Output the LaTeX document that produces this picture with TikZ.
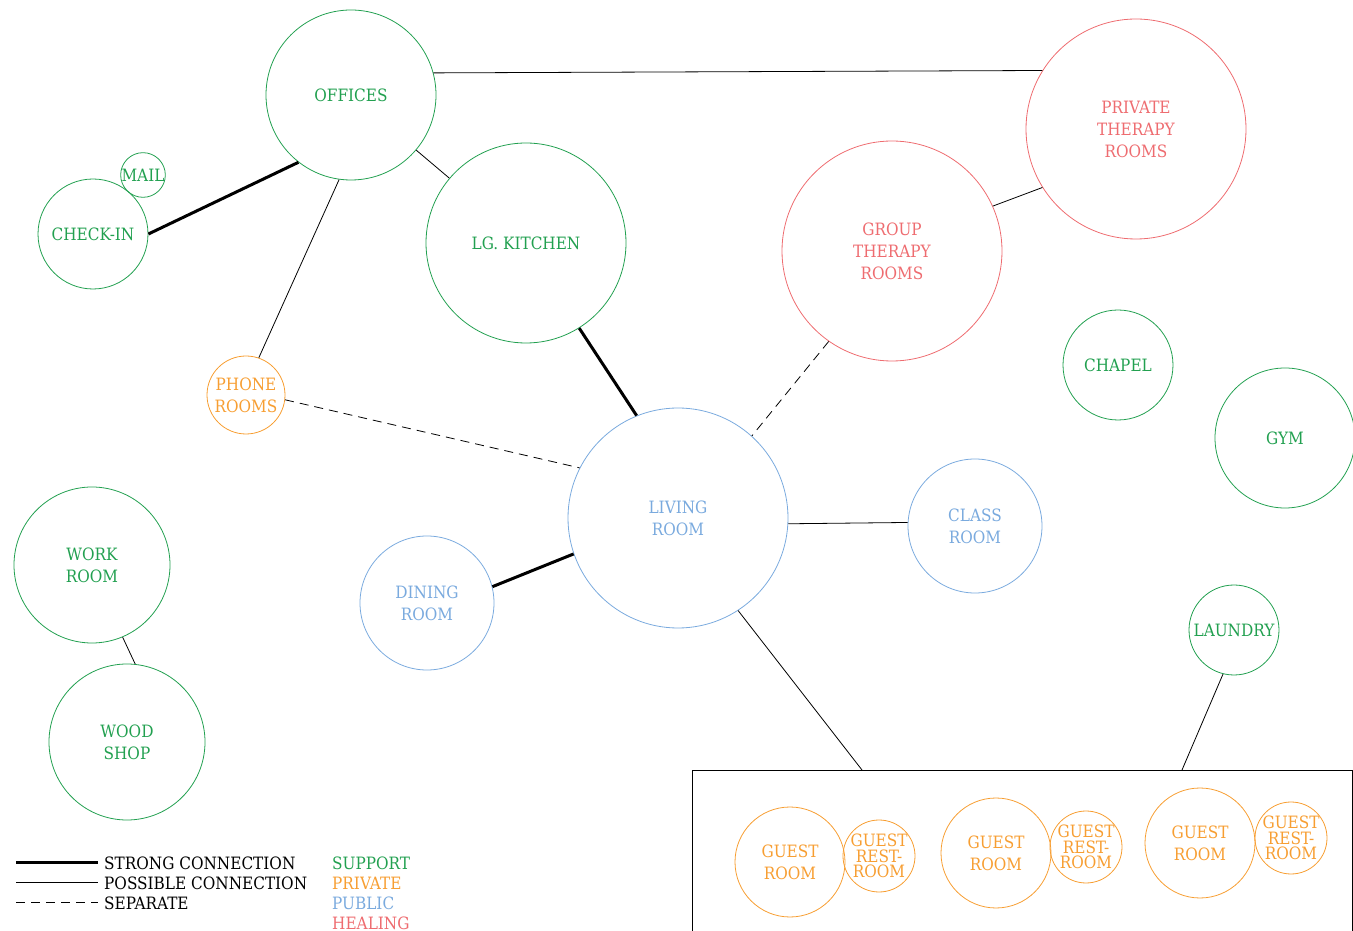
\documentclass[tikz,border=0pt]{standalone}
\usepackage{fontspec}
\setmainfont{DejaVu Serif Condensed}
\definecolor{supportgreen}{RGB}{34,160,80}
\definecolor{privateorange}{RGB}{247,158,50}
\definecolor{publicblue}{RGB}{122,170,222}
\definecolor{healingred}{RGB}{238,108,112}

\begin{document}
\begin{tikzpicture}[x=1pt, y=1pt,
    room/.style={circle, draw, inner sep=0pt, align=center, line width=0.8pt,
        font=\fontsize{17}{22}\selectfont},
    support/.style={room, draw=supportgreen, text=supportgreen},
    private/.style={room, draw=privateorange, text=privateorange},
    public/.style={room, draw=publicblue, text=publicblue},
    healing/.style={room, draw=healingred, text=healingred},
    restroom/.style={private, font=\fontsize{17}{15.5}\selectfont},
    strong/.style={line width=3pt},
    possible/.style={line width=0.8pt},
    separate/.style={line width=0.8pt, dash pattern=on 9pt off 6pt},
    legend/.style={anchor=west, inner sep=0pt, font=\fontsize{17}{20}\selectfont}]
    \useasboundingbox (0,0) rectangle (1353,930);

    % Support spaces
    \node[support, minimum size=170pt] (offices) at (351,835) {OFFICES};
    \node[support, minimum size=200pt] (kitchen) at (526,687) {LG. KITCHEN};
    \node[support, minimum size=110pt] (checkin) at (93,696) {CHECK-IN};
    \node[support, minimum size=40pt] (mail) at (143,755) {MAIL};
    \node[support, minimum size=110pt] (chapel) at (1118,565) {CHAPEL};
    \node[support, minimum size=140pt] (gym) at (1285,492) {GYM};
    \node[support, minimum size=90pt] (laundry) at (1234,300) {LAUNDRY};
    \node[support, minimum size=156pt] (workroom) at (92,365) {WORK\\ROOM};
    \node[support, minimum size=156pt] (woodshop) at (127,188) {WOOD\\SHOP};

    % Healing spaces
    \node[healing, minimum size=220pt] (privtherapy) at (1136,801) {PRIVATE\\THERAPY\\ROOMS};
    \node[healing, minimum size=220pt] (grptherapy) at (892,679) {GROUP\\THERAPY\\ROOMS};

    % Public spaces
    \node[public, minimum size=220pt] (living) at (678,412) {LIVING\\ROOM};
    \node[public, minimum size=134pt] (classroom) at (975,404) {CLASS\\ROOM};
    \node[public, minimum size=134pt] (dining) at (427,327) {DINING\\ROOM};

    % Private spaces
    \node[private, minimum size=78pt] (phone) at (246,535) {PHONE\\ROOMS};
    \node[private, minimum size=110pt] (guestA) at (790,68) {GUEST\\ROOM};
    \node[restroom, minimum size=72pt] (restA) at (879,74) {GUEST\\REST-\\ROOM};
    \node[private, minimum size=110pt] (guestB) at (996,77) {GUEST\\ROOM};
    \node[restroom, minimum size=72pt] (restB) at (1086,83) {GUEST\\REST-\\ROOM};
    \node[private, minimum size=110pt] (guestC) at (1200,87) {GUEST\\ROOM};
    \node[restroom, minimum size=72pt] (restC) at (1291,92) {GUEST\\REST-\\ROOM};

    % Guest wing
    \draw[possible] (692,-5) |- (1352,160) -- (1352,-5);
    \coordinate (wingL) at (862,160);
    \coordinate (wingR) at (1182,160);

    % Connections
    \draw[possible] (offices.15) -- (privtherapy.148);
    \draw[possible] (offices) -- (kitchen);
    \draw[strong] (checkin.0) -- (offices.232);
    \draw[possible] (offices.262) -- (phone.71);
    \draw[strong] (kitchen.302) -- (living.112);
    \draw[separate] (phone.-7) -- (living.153);
    \draw[separate] (grptherapy.235) -- (living.48);
    \draw[possible] (grptherapy.24) -- (privtherapy.212);
    \draw[possible] (living.-3) -- (classroom.177);
    \draw[strong] (living.199) -- (dining.14);
    \draw[possible] (living.303) -- (wingL);
    \draw[possible] (laundry.256) -- (wingR);
    \draw[possible] (workroom.293) -- (woodshop.84);

    % Legend
    \coordinate (lgA) at (16,68);  \coordinate (lgB) at (98,68);
    \coordinate (lgC) at (16,48);  \coordinate (lgD) at (98,48);
    \coordinate (lgE) at (16,28);  \coordinate (lgF) at (98,28);
    \draw[strong] (lgA) -- (lgB);
    \draw[possible] (lgC) -- (lgD);
    \draw[separate] (lgE) -- (lgF);
    \node[legend] (keystrong) at (104,67) {STRONG CONNECTION};
    \node[legend] (keypossible) at (104,47) {POSSIBLE CONNECTION};
    \node[legend] (keyseparate) at (104,27) {SEPARATE};
    \node[legend, text=supportgreen] (keysupport) at (332,67) {SUPPORT};
    \node[legend, text=privateorange] (keyprivate) at (332,47) {PRIVATE};
    \node[legend, text=publicblue] (keypublic) at (332,27) {PUBLIC};
    \node[legend, text=healingred] (keyhealing) at (332,7) {HEALING};
\end{tikzpicture}
\end{document}
